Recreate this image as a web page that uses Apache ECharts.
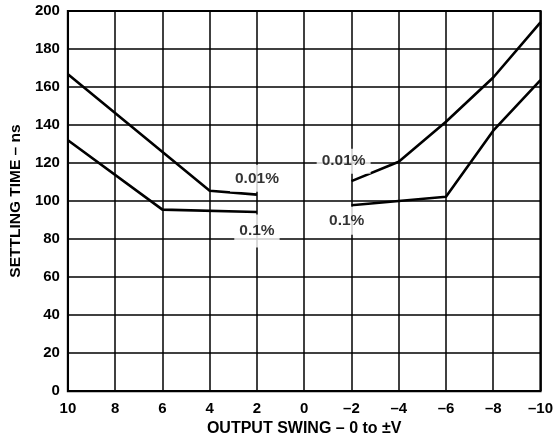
<!DOCTYPE html>
<html>
<head>
<meta charset="utf-8">
<script src="https://cdn.jsdelivr.net/npm/echarts@6/dist/echarts.min.js"></script>
<style>
  html, body { margin: 0; padding: 0; background: #fff; }
  #chart { width: 556px; height: 442px; }
</style>
</head>
<body>
<div id="chart"></div>
<script>
// Output swing (V) and settling time (ns)
const leftX = [10, 4, 2];
const left001 = [166.7, 105.4, 103.4];          // 0.01% , positive swing
const leftX01 = [10, 6, 2];
const left01 = [132, 95.5, 94.2];               // 0.1% , positive swing
const rightX = [-2, -4, -6, -8, -10];
const right001 = [110.5, 120.7, 141.7, 165, 194]; // 0.01% , negative swing
const rightX01 = [-2, -6, -8, -10];
const right01 = [97.8, 102.3, 137, 163.6];        // 0.1% , negative swing

// curve labels (text and data-space anchor)
const labelTexts = ['0.01%', '0.1%', '0.01%', '0.1%'];
const labelX = [2, 2, -1.67, -1.8];
const labelY = [112, 84.3, 121, 89.6];

const xTickValues = [10, 8, 6, 4, 2, 0, -2, -4, -6, -8, -10];
const xTickLabels = ['10', '8', '6', '4', '2', '0', '\u20132', '\u20134', '\u20136', '\u20138', '\u201310'];

const xName = 'OUTPUT SWING \u2013 0 to \u00B1V';
const yName = 'SETTLING TIME \u2013 ns';

function pairs(xs, ys) { return xs.map((x, i) => [x, ys[i]]); }

// style: white box padding around each curve label
const labelBoxPad = [[7, 5, 4, 5], [10, 5, 7, 5], [7, 5, 2, 5], [6, 5, 6, 5]];

const font = '"Liberation Sans", Arial, Helvetica, sans-serif';
const lineStyle = { color: '#000', width: 2.6 };
const gridLine = { show: true, lineStyle: { color: '#000', width: 1.5 } };

const chart = echarts.init(document.getElementById('chart'), null, { renderer: 'canvas' });
chart.setOption({
  animation: false,
  backgroundColor: '#fff',
  grid: { left: 66, right: 11, top: 11, bottom: 48, show: true, borderColor: '#000', borderWidth: 2.2, containLabel: false },
  xAxis: {
    type: 'value', min: -10, max: 10, interval: 2, inverse: true,
    name: xName, nameLocation: 'middle', nameGap: 28,
    nameTextStyle: { fontFamily: font, fontWeight: 'bold', fontSize: 16, color: '#000' },
    axisLine: { show: false }, axisTick: { show: false },
    axisLabel: {
      fontFamily: font, fontWeight: 'bold', fontSize: 15, color: '#000', margin: 10,
      formatter: v => xTickLabels[xTickValues.indexOf(v)]
    },
    splitLine: gridLine
  },
  yAxis: {
    type: 'value', min: 0, max: 200, interval: 20,
    name: yName, nameLocation: 'middle', nameGap: 38, nameRotate: 90,
    nameTextStyle: { fontFamily: font, fontWeight: 'bold', fontSize: 15.5, color: '#000' },
    axisLine: { show: false }, axisTick: { show: false },
    axisLabel: { fontFamily: font, fontWeight: 'bold', fontSize: 15, color: '#000', margin: 8 },
    splitLine: gridLine
  },
  series: [
    { type: 'line', data: pairs(leftX, left001), showSymbol: false, lineStyle, silent: true },
    { type: 'line', data: pairs(leftX01, left01), showSymbol: false, lineStyle, silent: true },
    { type: 'line', data: pairs(rightX, right001), showSymbol: false, lineStyle, silent: true },
    { type: 'line', data: pairs(rightX01, right01), showSymbol: false, lineStyle, silent: true },
    {
      type: 'scatter', z: 5, symbolSize: 0, silent: true,
      data: labelTexts.map((t, i) => ({
        name: t, value: [labelX[i], labelY[i]],
        label: { padding: labelBoxPad[i] }
      })),
      label: {
        show: true, position: 'inside', formatter: p => p.name,
        fontFamily: font, fontWeight: 'bold', fontSize: 15.5, color: '#000',
        backgroundColor: '#fff'
      }
    }
  ]
});
</script>
</body>
</html>
